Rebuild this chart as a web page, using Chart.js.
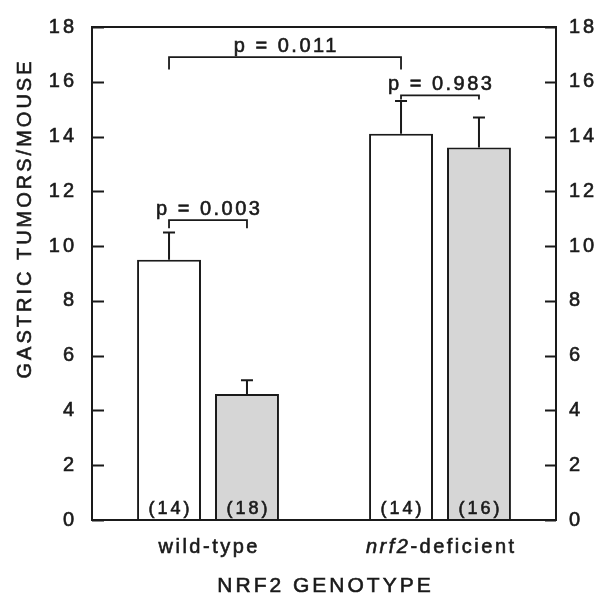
<!DOCTYPE html>
<html>
<head>
<meta charset="utf-8">
<script src="https://cdn.jsdelivr.net/npm/chart.js@4.4.0/dist/chart.umd.min.js"></script>
<style>
  body { margin: 0; background: #fff; }
  #wrap { width: 608px; height: 595px; position: relative; }
</style>
</head>
<body>
<div id="wrap"><canvas id="myChart"></canvas></div>
<script>
// ===== data =====
const categories = ["wild-type", "nrf2-deficient"];
const italicPart = ["", "nrf2"]; // prefix of each category label set in italics
const controlMeans = [9.5, 14.1];
const controlErrTop = [10.5, 15.3];
const treatedMeans = [4.6, 13.6];
const treatedErrTop = [5.1, 14.7];
const controlN = ["(14)", "(14)"];
const treatedN = ["(18)", "(16)"];
const yTicks = [0, 2, 4, 6, 8, 10, 12, 14, 16, 18];

// brackets: [category, dataset] at each end, level in tumors/mouse
const bracketLabels = ["p = 0.011", "p = 0.983", "p = 0.003"];
const bracketFrom = [[0, 0], [1, 0], [0, 0]];
const bracketTo = [[1, 0], [1, 1], [0, 1]];
const bracketLevel = [16.9, 15.5, 10.95];
const bracketDrop = [0.45, 0.15, 0.3];

const INK = "#1a1a1a";
const FONT = "'Liberation Sans', Arial, Helvetica, sans-serif";
const STROKE = 0.6; // thickens glyphs a little, like the scanned print

function spacedText(ctx, txt, x, y, ls, align) {
  ctx.letterSpacing = ls + "px";
  let w = ctx.measureText(txt).width - ls;
  let sx = x;
  if (align === "center") sx = x - w / 2;
  if (align === "right") sx = x - w;
  ctx.textAlign = "left";
  ctx.fillText(txt, sx, y);
  ctx.lineWidth = STROKE;
  ctx.strokeText(txt, sx, y);
  ctx.letterSpacing = "0px";
}

const spacingPlugin = {
  id: "spacing",
  beforeDraw(chart) {
    chart.ctx.letterSpacing = "3px";
  },
};

const decorPlugin = {
  id: "decor",
  afterDatasetsDraw(chart) {
    const ctx = chart.ctx;
    const area = chart.chartArea;
    const ys = chart.scales.y;
    const xs = chart.scales.x;
    const metas = [chart.getDatasetMeta(0), chart.getDatasetMeta(1)];
    const errTops = [controlErrTop, treatedErrTop];
    const nLabels = [controlN, treatedN];

    ctx.save();
    ctx.letterSpacing = "0px";
    ctx.strokeStyle = INK;
    ctx.fillStyle = INK;

    // frame
    ctx.lineWidth = 2;
    ctx.strokeRect(area.left, area.top, area.right - area.left, area.bottom - area.top);

    // inward ticks on both axes
    ctx.beginPath();
    for (const v of yTicks) {
      const py = Math.round(ys.getPixelForValue(v)) + 0.5;
      ctx.moveTo(area.left, py);
      ctx.lineTo(area.left + 12, py);
      ctx.moveTo(area.right, py);
      ctx.lineTo(area.right - 11, py);
    }
    ctx.lineWidth = 1.8;
    ctx.stroke();

    // error bars (upper only)
    ctx.lineWidth = 2;
    metas.forEach((meta, d) => {
      meta.data.forEach((bar, i) => {
        const top = ys.getPixelForValue(errTops[d][i]);
        ctx.beginPath();
        ctx.moveTo(bar.x, bar.y);
        ctx.lineTo(bar.x, top);
        ctx.moveTo(bar.x - 6, top);
        ctx.lineTo(bar.x + 6, top);
        ctx.stroke();
      });
    });

    // group sizes at the foot of the bars
    ctx.font = "18px " + FONT;
    ctx.textBaseline = "alphabetic";
    metas.forEach((meta, d) => {
      meta.data.forEach((bar, i) => {
        spacedText(ctx, nLabels[d][i], bar.x, area.bottom - 6, 3, "center");
      });
    });

    // significance brackets
    ctx.font = "20px " + FONT;
    bracketLabels.forEach((lab, k) => {
      const x1 = metas[bracketFrom[k][1]].data[bracketFrom[k][0]].x;
      const x2 = metas[bracketTo[k][1]].data[bracketTo[k][0]].x;
      const yb = ys.getPixelForValue(bracketLevel[k]);
      const yd = ys.getPixelForValue(bracketLevel[k] - bracketDrop[k]);
      ctx.lineWidth = 1.8;
      ctx.beginPath();
      ctx.moveTo(x1, yd);
      ctx.lineTo(x1, yb);
      ctx.lineTo(x2, yb);
      ctx.lineTo(x2, yd);
      ctx.stroke();
      spacedText(ctx, lab, (x1 + x2) / 2, yb - 5, 2.5, "center");
    });

    // category labels with italic gene name
    categories.forEach((c, i) => {
      const cx = xs.getPixelForValue(i);
      const it = italicPart[i];
      const rest = c.slice(it.length);
      ctx.letterSpacing = "2.5px";
      ctx.font = "italic 20px " + FONT;
      const wi = it ? ctx.measureText(it).width : 0;
      ctx.font = "20px " + FONT;
      const wr = ctx.measureText(rest).width - 2.5;
      let sx = cx - (wi + wr) / 2;
      ctx.textAlign = "left";
      ctx.lineWidth = STROKE;
      if (it) {
        ctx.font = "italic 20px " + FONT;
        ctx.fillText(it, sx, area.bottom + 33);
        ctx.strokeText(it, sx, area.bottom + 33);
        ctx.font = "20px " + FONT;
      }
      ctx.fillText(rest, sx + wi, area.bottom + 33);
      ctx.strokeText(rest, sx + wi, area.bottom + 33);
      ctx.letterSpacing = "0px";
    });

    // axis titles
    ctx.font = "21px " + FONT;
    spacedText(ctx, "NRF2 GENOTYPE", (area.left + area.right) / 2, 592, 3, "center");
    ctx.save();
    ctx.translate(31, 220);
    ctx.rotate(-Math.PI / 2);
    ctx.font = "20px " + FONT;
    spacedText(ctx, "GASTRIC TUMORS/MOUSE", 0, 0, 3, "center");
    ctx.restore();

    ctx.restore();
  },
};

const tickFont = { family: FONT, size: 20 };

const config = {
  type: "bar",
  data: {
    labels: categories,
    datasets: [
      {
        label: "control",
        data: controlMeans,
        backgroundColor: "#ffffff",
        borderColor: INK,
        borderWidth: 2,
        categoryPercentage: 0.672,
        barPercentage: 0.82,
      },
      {
        label: "treated",
        data: treatedMeans,
        backgroundColor: "#d6d6d6",
        borderColor: INK,
        borderWidth: 2,
        categoryPercentage: 0.672,
        barPercentage: 0.82,
      },
    ],
  },
  options: {
    responsive: true,
    maintainAspectRatio: false,
    animation: false,
    layout: { padding: { top: 20, left: 0, right: 0, bottom: 0 } },
    plugins: {
      legend: { display: false },
      tooltip: { enabled: false },
    },
    scales: {
      x: {
        grid: { display: false, drawTicks: false },
        border: { display: false },
        ticks: { display: false },
        afterFit: (s) => { s.height = 75; },
      },
      y: {
        position: "left",
        min: 0,
        max: 18,
        ticks: { stepSize: 2, color: INK, font: tickFont, padding: 15,
                 textStrokeColor: INK, textStrokeWidth: STROKE },
        grid: { display: false, drawTicks: false },
        border: { display: false },
        afterFit: (s) => { s.width = 92; },
      },
      y2: {
        position: "right",
        min: 0,
        max: 18,
        ticks: { stepSize: 2, color: INK, font: tickFont, padding: 13,
                 textStrokeColor: INK, textStrokeWidth: STROKE },
        grid: { display: false, drawTicks: false },
        border: { display: false },
        afterFit: (s) => { s.width = 52; },
      },
    },
  },
  plugins: [spacingPlugin, decorPlugin],
};

let myChart2D = document.getElementById("myChart").getContext("2d");
let chart = new Chart(myChart2D, config);
</script>
</body>
</html>
